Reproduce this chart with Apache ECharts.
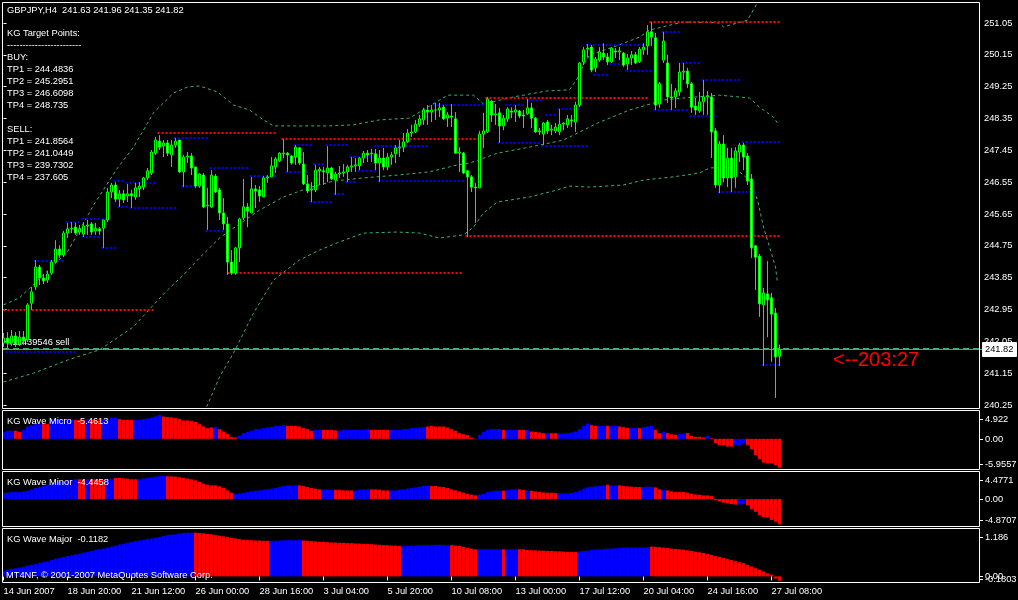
<!DOCTYPE html>
<html><head><meta charset="utf-8">
<script src="https://cdn.jsdelivr.net/npm/echarts@6/dist/echarts.min.js"></script>
<style>html,body{margin:0;padding:0;background:#000;} #c{width:1018px;height:600px;}</style>
</head><body><div id="c"></div>
<script>
// ---------- DATA ----------
const tickLabels = ['14 Jun 2007','18 Jun 20:00','21 Jun 12:00','26 Jun 00:00','28 Jun 16:00','3 Jul 04:00','5 Jul 20:00','10 Jul 08:00','13 Jul 00:00','17 Jul 12:00','20 Jul 04:00','24 Jul 16:00','27 Jul 08:00'];
const priceTicks = [251.05,250.15,249.25,248.35,247.45,246.55,245.65,244.75,243.85,242.95,242.05,241.15,240.25];

const opens = [242.00,242.14,242.00,242.20,241.97,242.17,242.09,243.13,243.59,244.15,
243.84,243.78,243.98,244.29,244.66,244.49,245.11,245.23,245.28,245.14,
245.08,245.31,245.37,245.17,245.23,245.25,245.48,246.27,246.47,246.07,
246.22,246.16,246.22,246.13,246.36,246.41,246.67,246.81,247.37,247.71,
247.57,247.66,247.32,247.60,247.74,246.84,247.26,247.29,246.98,246.44,
246.75,245.88,245.85,246.72,246.33,245.68,245.37,244.29,243.98,244.69,
245.54,245.85,245.68,246.36,246.33,246.13,246.67,246.70,246.98,247.15,
247.35,247.37,247.29,247.26,247.52,247.06,246.50,246.33,246.33,246.87,
246.87,246.81,246.95,246.61,246.78,246.81,246.84,246.98,247.01,247.01,
247.23,247.37,247.35,247.35,247.09,247.23,246.98,247.26,247.35,247.52,
247.54,247.69,247.94,247.97,248.17,248.31,248.59,248.53,248.59,248.59,
248.67,248.36,248.42,248.34,247.37,247.37,246.87,246.70,246.41,246.39,
247.91,247.97,248.84,248.45,248.51,248.14,248.34,248.56,248.53,248.56,
248.45,248.48,248.65,248.36,247.97,247.91,248.25,248.02,248.00,247.97,
248.19,248.17,248.31,248.25,248.73,249.95,250.31,250.37,249.78,250.00,
250.20,250.09,249.95,250.26,250.23,250.20,249.89,250.06,250.15,249.95,
250.29,250.40,250.80,250.63,248.76,250.00,249.92,248.96,248.96,249.10,
249.66,249.69,249.33,248.70,248.56,248.82,248.96,248.96,248.00,246.47,
247.63,246.67,247.23,246.70,247.40,247.60,247.29,246.64,244.75,244.46,
243.08,243.39,243.28,242.85,241.63];
const highs = [242.29,242.31,242.37,242.31,242.34,242.34,243.13,243.59,244.35,244.21,
243.95,244.04,244.35,244.91,244.77,245.17,245.40,245.42,245.40,245.34,
245.42,245.48,245.42,245.40,245.28,245.48,246.39,246.53,246.55,246.33,
246.33,246.50,246.33,246.53,246.55,246.70,246.95,247.46,247.83,247.88,
247.74,247.74,247.74,247.80,247.74,247.32,247.40,247.37,246.98,246.81,
246.81,246.39,246.89,246.78,246.39,246.10,245.57,244.63,244.72,245.54,
246.64,245.96,246.70,246.47,246.44,246.72,246.75,247.26,247.26,247.40,
247.77,247.40,247.32,247.60,247.54,247.40,246.75,246.55,247.04,246.98,
246.98,247.57,246.98,246.84,247.01,247.06,247.04,247.26,247.23,247.26,
247.43,247.46,247.49,247.49,247.46,247.52,247.37,247.40,247.60,247.74,
247.94,248.05,248.17,248.31,248.45,248.65,248.73,248.73,248.79,248.79,
248.73,248.53,248.76,248.53,247.54,247.40,246.89,246.75,246.53,248.00,
248.51,248.96,248.87,248.76,248.65,248.45,248.67,248.67,248.73,248.59,
248.59,248.90,248.79,248.39,248.08,248.25,248.31,248.17,248.22,248.62,
248.25,248.45,248.45,248.82,249.95,250.37,250.46,250.43,250.09,250.37,
250.48,250.20,250.37,250.34,250.37,250.23,250.17,250.26,250.23,250.37,
250.48,250.99,251.08,250.77,249.38,250.80,250.15,249.33,249.21,249.92,
249.92,249.78,249.38,248.93,249.10,249.44,249.13,249.07,248.08,247.71,
247.88,247.52,247.52,247.54,247.66,247.66,247.37,246.78,244.77,244.52,
243.56,244.32,243.42,242.99,241.96];
const lows = [241.89,241.86,241.92,241.89,241.92,241.95,242.03,242.94,243.50,243.64,
243.67,243.70,243.93,244.27,244.41,244.43,244.97,245.11,245.06,245.06,
245.00,245.06,245.06,245.06,245.06,244.69,245.42,246.10,245.99,245.85,
245.96,245.99,245.82,246.05,246.13,246.33,246.61,246.75,247.32,247.46,
247.26,247.29,246.98,247.52,246.81,246.41,247.09,246.75,246.39,246.39,
245.82,245.20,245.82,246.24,245.48,245.20,243.93,243.93,243.93,244.29,
245.48,245.28,245.68,245.82,245.99,246.13,246.53,246.70,246.81,247.12,
247.23,246.84,247.04,247.04,247.04,246.47,246.24,245.99,246.27,246.47,
246.47,246.55,246.61,246.19,246.67,246.70,246.55,246.84,246.84,246.89,
247.09,247.12,247.12,246.89,246.55,246.89,246.89,247.04,247.09,247.26,
247.40,247.66,247.83,247.94,248.11,248.17,248.17,248.25,248.31,248.39,
248.31,248.11,248.11,247.35,246.84,246.78,245.00,246.27,245.40,246.39,
247.52,247.94,248.25,248.17,247.66,248.02,248.25,248.36,248.25,248.36,
248.08,248.45,248.08,247.94,247.88,247.60,247.91,247.88,247.94,247.88,
248.02,248.08,248.11,247.97,248.67,249.86,250.09,249.66,249.66,249.95,
250.00,249.86,249.92,250.06,250.00,249.81,249.72,249.86,249.89,249.92,
250.15,250.15,250.40,248.59,248.65,249.92,248.79,248.59,248.65,248.99,
249.44,249.21,248.51,248.45,248.51,248.45,248.45,247.23,246.39,246.24,
246.55,246.41,246.27,246.39,247.12,246.89,246.47,244.41,243.50,242.74,
241.35,242.17,241.47,240.45,241.35];
const closes = [242.14,242.00,242.20,241.97,242.17,242.06,243.08,243.45,244.15,243.84,
243.76,243.95,244.29,244.66,244.49,245.11,245.23,245.25,245.11,245.23,
245.31,245.34,245.14,245.25,245.17,245.48,246.27,246.47,246.07,246.22,
246.05,246.22,246.16,246.39,246.44,246.67,246.87,247.40,247.74,247.54,
247.66,247.37,247.60,247.71,246.84,247.26,247.29,246.95,246.44,246.78,
245.85,245.90,246.75,246.27,245.68,245.37,244.29,243.98,244.69,245.51,
245.85,245.73,246.36,246.30,246.16,246.67,246.70,247.01,247.21,247.37,
247.37,247.32,247.09,247.54,247.09,246.50,246.30,246.36,246.89,246.92,
246.84,246.95,246.64,246.78,246.81,246.84,246.98,247.01,247.04,247.23,
247.37,247.32,247.37,247.09,247.23,246.98,247.26,247.32,247.52,247.54,
247.69,247.94,247.97,248.19,248.34,248.59,248.53,248.59,248.59,248.65,
248.34,248.45,248.39,247.37,247.40,246.81,246.70,246.41,246.39,247.91,
248.00,248.90,248.45,248.48,248.14,248.36,248.62,248.53,248.59,248.42,
248.42,248.65,248.36,247.97,248.00,248.22,248.00,248.05,248.11,248.19,
248.22,248.34,248.28,248.73,249.92,250.29,250.34,249.72,250.03,250.23,
250.09,249.95,250.34,250.23,250.26,249.86,250.06,250.15,249.92,250.31,
250.37,250.80,250.65,248.73,249.33,250.54,248.96,248.93,249.13,249.66,
249.69,249.33,248.67,248.59,248.82,248.96,248.99,247.97,246.47,247.63,
246.67,247.23,246.67,247.43,247.60,247.26,246.58,244.69,244.43,243.11,
243.42,243.22,242.82,241.61,241.82];

// envelope lines: [bar, price]
const upperBand = [[0,243.08],[4,243.28],[16,244.58],[22.5,245.90],[28.5,246.95],[32.5,247.54],[37.5,248.51],[42.5,249.07],[46,249.24],[49,249.27],[53.5,249.10],[57.5,248.73],[61.5,248.59],[65,248.31],[67.5,248.14],[81.5,248.14],[87.5,248.17],[94,248.31],[101.5,248.36],[109,248.87],[111,249.01],[117.5,249.01],[120,248.76],[127.5,248.96],[136,249.13],[141.5,249.16],[143.5,249.49],[145,249.86],[146.5,250.15],[152.5,250.37],[159,250.65],[161.5,250.85],[170,251.08],[179,251.05],[180,250.94],[186,251.13],[188.5,251.62],[189.5,252.0]];
const middleBand = [[0,240.90],[7.5,241.15],[16,241.52],[24,241.81],[32.5,242.46],[37.5,243.08],[41,243.50],[45,243.93],[49,244.41],[54,244.97],[59,245.37],[64,245.76],[70,246.13],[76,246.38],[82.5,246.58],[90,246.67],[98.5,246.75],[106.5,246.84],[113.5,247.04],[116.5,247.09],[123.5,247.37],[131.5,247.54],[140,247.74],[148.5,248.22],[156.5,248.59],[165,248.87],[170,248.93],[179,249.01],[186.5,248.93],[189,248.67],[192.5,248.39],[193.5,248.22]];
const lowerBand = [[48,239.60],[51,240.25],[54,241.04],[57.5,241.72],[62.5,242.85],[67.5,243.78],[74,244.35],[79,244.63],[84,244.86],[90,245.11],[98.5,245.14],[104,245.11],[109,244.97],[115,245.06],[117.5,245.28],[120,245.68],[123.5,245.99],[131.5,246.13],[138.5,246.33],[141.5,246.44],[146.5,246.41],[155,246.47],[160,246.61],[167.5,246.70],[174,246.81],[176.5,246.95],[181,246.98],[184,246.84],[186.5,246.61],[188.5,246.05],[190,245.28],[191.5,244.72],[193,244.15],[193.5,243.70]];

// dotted levels: [fromBar, toBar, price]
const redLevels = [[0,38,242.94],[38.5,68.5,247.93],[69.5,120,247.78],[56,115,243.98],[115.5,194,245.03],[120.5,161,248.93],[161.5,194,251.08]];
const blueLevels = [[0.5,18.5,241.75],[7.5,15,244.32],[15.5,19.5,245.42],[19.5,26.5,245.51],[19.5,24,245.00],[24.5,28,244.69],[27.5,30,246.58],[30.5,38,246.53],[28.5,31,245.85],[31.5,43.5,245.82],[42.5,51,247.80],[44.5,49.5,246.44],[51.5,61,246.95],[50.5,55,245.17],[61.5,68.5,246.72],[70.5,76,246.84],[72.5,77,247.60],[80.5,86,247.60],[77.5,80,247.06],[76.5,82,245.99],[85.5,88,246.55],[82.5,85,246.22],[86.5,92.5,247.26],[88.5,93,246.87],[92.5,106.5,247.57],[93.5,115,246.58],[107.5,120,248.73],[123.5,134,247.66],[125.5,130,248.73],[131,135,248.87],[134.5,146.5,247.57],[135.5,138,248.45],[138.5,144.5,248.62],[145.5,161,250.43],[147.5,151,249.58],[151.5,155,249.89],[155.5,162,249.69],[164.5,169,250.80],[162.5,171,248.59],[169.5,174,249.92],[174.5,184,249.44],[171.5,178,248.42],[184.5,194,247.69],[178.5,188.5,246.27],[189.5,194,241.38]];

const microValues = [1.45,1.66,1.66,1.66,1.45,1.86,2.55,2.83,3.04,3.04,
3.04,3.04,4.07,4.07,4.07,4.07,4.07,4.07,3.93,3.93,
3.93,4.07,3.93,3.93,3.93,4.07,4.07,4.35,4.35,4.07,
3.93,3.93,3.93,3.93,3.93,4.07,4.21,4.42,4.62,4.922,
4.62,4.49,4.42,4.28,4.07,3.80,3.80,3.73,3.52,3.04,
2.55,2.21,2.35,2.48,2.00,1.52,0.97,0.41,0.28,0.62,
1.17,1.45,1.66,2.00,2.00,2.21,2.35,2.48,2.69,2.69,
2.83,2.69,2.69,2.69,2.55,2.21,2.00,1.66,1.86,1.86,
1.86,1.86,1.86,1.73,1.66,1.86,1.86,1.86,1.86,1.86,
1.86,2.00,1.86,1.86,1.86,1.86,1.86,1.86,1.86,1.86,
2.00,2.00,2.21,2.28,2.35,2.42,2.55,2.69,2.55,2.55,
2.55,2.35,2.00,1.66,1.17,0.97,0.76,0.28,-0.07,0.76,
1.45,1.86,2.00,2.00,2.00,1.86,1.86,1.86,1.86,1.86,
1.86,1.86,1.52,1.45,1.31,1.17,1.17,1.17,1.17,1.10,
1.10,1.17,1.31,1.52,2.00,2.69,3.17,2.83,2.69,2.69,
2.69,2.69,2.69,2.69,2.55,2.42,2.28,2.21,2.21,2.21,
2.42,2.55,2.69,1.86,1.17,1.45,1.17,0.97,0.83,0.97,
1.10,1.17,0.62,0.41,0.41,0.28,0.62,0.14,-0.90,-1.31,
-1.31,-1.59,-1.59,-1.31,-1.31,-0.97,-1.31,-2.14,-3.38,-4.21,
-4.90,-5.04,-5.04,-5.45,-5.9557];
const microColors = 'bbbrrbbbbb'+'rrbbbbbbrr'+'rbrrrbbbbr'+'rrrbbbbbbb'+'rrrrrrrrrr'+'rrrbrrrrrb'+'bbbbbbbbbb'+'brrrrrrrbb'+'rrrrbbbbbb'+'bbrrrrrbbb'+'bbbbbbrrrr'+'rrrrrrrrrb'+'bbbbbrbbbr'+'rbrrrrbrrb'+'bbbbbbbrrb'+'brbbrrrbbr'+'bbbrrbrrrb'+'brrrrrbrrr'+'rrrbbbrrrr'+'rrrrr';

const minorValues = [1.24,1.24,1.37,1.37,1.37,1.50,1.63,1.89,2.15,2.34,
2.54,2.80,2.99,3.19,3.32,3.45,3.64,3.71,3.84,3.84,
3.84,3.84,3.84,3.84,3.77,3.71,3.84,3.97,4.10,4.10,
4.03,3.97,3.84,3.84,3.84,3.97,4.10,4.23,4.36,4.42,
4.4771,4.42,4.42,4.36,4.23,4.10,3.97,3.84,3.64,3.32,
2.99,2.80,2.67,2.67,2.47,2.15,1.69,1.24,0.98,1.04,
1.24,1.37,1.50,1.63,1.69,1.82,1.89,2.02,2.15,2.34,
2.54,2.67,2.67,2.67,2.67,2.54,2.34,2.15,2.02,1.89,
1.89,1.89,1.82,1.82,1.82,1.69,1.69,1.69,1.69,1.82,
1.89,1.89,1.89,1.89,1.82,1.69,1.69,1.69,1.69,1.82,
1.89,2.02,2.15,2.28,2.41,2.54,2.54,2.54,2.54,2.41,
2.34,2.15,1.89,1.69,1.50,1.24,1.04,0.85,0.72,0.85,
1.04,1.37,1.50,1.63,1.63,1.63,1.76,1.89,1.89,1.89,
1.76,1.63,1.63,1.50,1.37,1.30,1.24,1.24,1.17,1.11,
1.11,1.11,1.17,1.37,1.63,2.02,2.28,2.41,2.47,2.54,
2.67,2.80,2.67,2.67,2.67,2.54,2.47,2.41,2.34,2.34,
2.34,2.41,2.41,2.28,1.89,1.76,1.69,1.50,1.37,1.37,
1.37,1.24,1.04,0.91,0.85,0.72,0.72,0.59,-0.25,-0.44,
-0.69,-0.82,-0.95,-1.07,-1.07,-0.95,-1.20,-1.95,-2.46,-3.09,
-3.47,-3.59,-4.03,-4.35,-4.8707];
const minorColors = 'bbbbbbbbbb'+'bbbbbbbbbr'+'rbrrrrbbrr'+'rrrrbbbbbb'+'brrrrrrrrr'+'rrrrrrrrbb'+'bbbbbbbbbb'+'bbbbrrrrrr'+'bbbrrrrrbb'+'bbrrrrrbbb'+'bbbbbbbrrr'+'rrrrrrrrrb'+'bbbbbrbbbr'+'rbrrrrrrrb'+'bbbbbbbbbb'+'brbbrrrrrr'+'bbbrrbrrrr'+'rrrrrrrrrr'+'rrrrbbrrrr'+'rrrrr';

const majorValues = [0.156,0.184,0.202,0.221,0.239,0.258,0.294,0.313,0.331,0.368,
0.386,0.405,0.442,0.478,0.497,0.524,0.552,0.570,0.598,0.616,
0.644,0.662,0.690,0.718,0.736,0.754,0.782,0.810,0.837,0.865,
0.883,0.911,0.938,0.957,0.975,0.994,1.012,1.030,1.049,1.067,
1.095,1.122,1.132,1.141,1.159,1.178,1.186,1.186,1.186,1.178,
1.168,1.150,1.141,1.122,1.104,1.086,1.067,1.049,1.030,1.012,
0.994,0.984,0.984,0.975,0.975,0.966,0.966,0.966,0.966,0.975,
0.975,0.984,0.984,0.984,0.984,0.975,0.966,0.957,0.948,0.938,
0.938,0.929,0.920,0.920,0.911,0.911,0.902,0.902,0.892,0.892,
0.883,0.883,0.874,0.865,0.856,0.846,0.846,0.837,0.837,0.828,
0.828,0.828,0.828,0.837,0.846,0.846,0.846,0.846,0.856,0.856,
0.846,0.846,0.846,0.837,0.828,0.800,0.773,0.754,0.736,0.736,
0.736,0.736,0.736,0.736,0.736,0.736,0.736,0.736,0.736,0.736,
0.736,0.718,0.708,0.708,0.699,0.699,0.690,0.690,0.681,0.681,
0.672,0.662,0.662,0.662,0.681,0.690,0.699,0.718,0.727,0.736,
0.736,0.754,0.754,0.764,0.773,0.782,0.782,0.782,0.782,0.782,
0.782,0.791,0.810,0.800,0.791,0.782,0.773,0.754,0.745,0.736,
0.727,0.708,0.690,0.672,0.653,0.635,0.607,0.580,0.552,0.524,
0.497,0.469,0.442,0.414,0.386,0.359,0.313,0.267,0.221,0.175,
0.129,0.083,0.046,-0.06,-0.1182];
const majorColors = 'bbbbbbbbbb'+'bbbbbbbbbb'+'bbbbbbbbbb'+'bbbbbbbbbb'+'bbbbbbbbrr'+'rrrrrrrrrr'+'rrrrrrrbbb'+'bbbbbrrrrr'+'rrrrrrrrrr'+'rrrrrrrrrr'+'bbbbbbbbbb'+'bbrrrrrrrb'+'bbbbbrbbbr'+'rrrrrrrrrr'+'rrrrbbbbbb'+'bbbbbbbbbb'+'bbrrrrrrrr'+'rrrrrrrrrr'+'rrrrrrrrrr'+'rrrrr';

const panelRanges = {micro:[-5.9557,4.922], minor:[-4.8707,4.4771], major:[-0.1803,1.186]};
const panelAxisTexts = {micro:['4.922','0.00','-5.9557'], minor:['4.4771','0.00','-4.8707'], major:['1.186','0.00','-0.1803']};
const panelTitles = ['KG Wave Micro  -5.4613','KG Wave Minor  -4.4458','KG Wave Major  -0.1182'];
const bidPrice = 241.82, orderPrice = 241.84;
const headerText = 'GBPJPY,H4  241.63 241.96 241.35 241.82';
const infoLines = ['KG Target Points:','------------------------','BUY:','TP1 = 244.4836','TP2 = 245.2951','TP3 = 246.6098','TP4 = 248.735','','SELL:','TP1 = 241.8564','TP2 = 241.0449','TP3 = 239.7302','TP4 = 237.605'];
const orderText = '#11439546 sell';
const timerText = '<--203:27';
const copyrightText = 'MT4NF, \u00a9 2001-2007 MetaQuotes Software Corp.';

// ---------- CHART ----------
const FF = "'Liberation Sans', Arial, sans-serif";
const FS = 9.3;
const NCAT = 244;
const cats = Array.from({length:NCAT}, (_, i) => 'c' + i);
const showTick = (idx) => idx % 16 === 0 && idx / 16 < tickLabels.length;

const gridBase = {left:1.5, width:976, outerBoundsMode:'none', containLabel:false};
const grids = [
  Object.assign({top:3, height:406}, gridBase),
  Object.assign({top:415, height:52.7}, gridBase),
  Object.assign({top:476, height:48.3}, gridBase),
  Object.assign({top:532.7, height:50.3}, gridBase)
];
const xAxes = [0,1,2,3].map(k => ({
  type:'category', gridIndex:k, data:cats, boundaryGap:true,
  axisLine:{show:false}, splitLine:{show:false},
  axisTick: k===3 ? {show:true, alignWithLabel:true, interval:(i)=>showTick(i), length:4, lineStyle:{color:'#ffffff'}} : {show:false},
  axisLabel: k===3 ? {show:true, interval:(i)=>showTick(i), formatter:(v,i)=>tickLabels[Math.round(i/16)], align:'left', color:'#ffffff', fontSize:FS, fontFamily:FF, margin:4} : {show:false}
}));
xAxes.push({type:'value', gridIndex:0, min:-0.5, max:NCAT-0.5, show:false});

const yAxes = [
  {type:'value', gridIndex:0, position:'right', offset:2.5, min:240.137, max:251.615, scale:true,
   axisLine:{show:false}, splitLine:{show:false},
   axisTick:{show:true, length:3, customValues:priceTicks, lineStyle:{color:'#ffffff'}},
   axisLabel:{show:true, customValues:priceTicks, formatter:(v)=>Number(v).toFixed(2), color:'#ffffff', fontSize:FS, fontFamily:FF, margin:4}},
  {type:'value', gridIndex:1, min:panelRanges.micro[0], max:panelRanges.micro[1], show:false},
  {type:'value', gridIndex:2, min:panelRanges.minor[0], max:panelRanges.minor[1], show:false},
  {type:'value', gridIndex:3, min:panelRanges.major[0], max:panelRanges.major[1], show:false}
];

const candleData = opens.map((o, i) => [o, closes[i], lows[i], highs[i]]);
const colorOf = c => c === 'b' ? '#0000ff' : '#ff0000';
const barData = (vals, cols) => vals.map((v, i) => ({value:v, itemStyle:{color:colorOf(cols[i])}}));

function levelRenderer(color){
  return function(params, api){
    const p1 = api.coord([api.value(0), api.value(2)]);
    const p2 = api.coord([api.value(1), api.value(2)]);
    const y = Math.round(p1[1]);
    return {type:'line', shape:{x1:p1[0], y1:y, x2:p2[0], y2:y}, style:{stroke:color, lineWidth:2, lineDash:[2,2]}};
  };
}
const bandStyle = {color:'#3cb371', width:1, type:[3,3]};

const option = {
  backgroundColor:'#000000',
  animation:false,
  textStyle:{fontFamily:FF},
  grid:grids, xAxis:xAxes, yAxis:yAxes,
  series:[
    {type:'line', name:'upper', xAxisIndex:4, yAxisIndex:0, data:upperBand, symbol:'none', lineStyle:bandStyle, z:3, silent:true},
    {type:'line', name:'middle', xAxisIndex:4, yAxisIndex:0, data:middleBand, symbol:'none', lineStyle:bandStyle, z:3, silent:true},
    {type:'line', name:'lower', xAxisIndex:4, yAxisIndex:0, data:lowerBand, symbol:'none', lineStyle:bandStyle, z:3, silent:true},
    {type:'custom', name:'red', xAxisIndex:4, yAxisIndex:0, data:redLevels, encode:{x:[0,1], y:2}, renderItem:levelRenderer('#ff0000'), z:4, silent:true},
    {type:'custom', name:'blue', xAxisIndex:4, yAxisIndex:0, data:blueLevels, encode:{x:[0,1], y:2}, renderItem:levelRenderer('#0000ff'), z:4, silent:true},
    {type:'candlestick', xAxisIndex:0, yAxisIndex:0, data:candleData, barWidth:2, z:5, silent:true,
     itemStyle:{color:'#000000', color0:'#ffffff', borderColor:'#00ff00', borderColor0:'#00ff00', borderWidth:1}},
    {type:'bar', xAxisIndex:1, yAxisIndex:1, data:barData(microValues, microColors), barWidth:3, z:2, silent:true},
    {type:'bar', xAxisIndex:2, yAxisIndex:2, data:barData(minorValues, minorColors), barWidth:3, z:2, silent:true},
    {type:'bar', xAxisIndex:3, yAxisIndex:3, data:barData(majorValues, majorColors), barWidth:3, z:2, silent:true}
  ]
};

const chart = echarts.init(document.getElementById('c'), null, {renderer:'canvas'});
chart.setOption(option);

// ---------- overlay texts / frames ----------
const g = [];
const FONT = FS + 'px ' + FF;
function txt(x, y, text, fill, font, z){
  g.push({type:'text', x:x, y:y, z:z==null?20:z, silent:true, style:{text:text, fill:fill||'#ffffff', font:font||FONT, align:'left', verticalAlign:'middle'}});
}
function ln(x1, y1, x2, y2, stroke, w, dash, z){
  g.push({type:'line', z:z==null?20:z, silent:true, shape:{x1:x1,y1:y1,x2:x2,y2:y2}, style:{stroke:stroke, lineWidth:w||1, lineDash:dash||null}});
}
function frame(y, h){
  g.push({type:'rect', z:20, silent:true, shape:{x:2.5, y:y, width:977, height:h}, style:{fill:'none', stroke:'#ffffff', lineWidth:1}});
}
frame(2.5, 406); frame(410.5, 59); frame(471.5, 55); frame(528.5, 54);

// sub-panel right scales
const keys = ['micro','minor','major'];
keys.forEach((k, j) => {
  const ax = j + 1;
  const [mn, mx] = panelRanges[k];
  const yMax = chart.convertToPixel({yAxisIndex:ax}, mx) + 4;
  const yZero = chart.convertToPixel({yAxisIndex:ax}, 0);
  const yMin = chart.convertToPixel({yAxisIndex:ax}, mn) - 4;
  const t = panelAxisTexts[k];
  [[t[0], yMax], [t[1], yZero], [t[2], yMin]].forEach(([s, y]) => {
    const yy = Math.round(y) + 0.5;
    ln(980, yy, 983, yy, '#ffffff', 1);
    txt(985, yy, s);
  });
});

// header & info block
txt(7, 10.5, headerText);
infoLines.forEach((s, i) => { if (s) txt(7, 33 + 12 * i, s); });
// panel titles
const titleYs = [421.5, 482.5, 539.5];
panelTitles.forEach((s, i) => txt(7, titleYs[i], s));
txt(6, 575, copyrightText);

// bid line, order line, price box
const bidY = Math.round(chart.convertToPixel({yAxisIndex:0}, bidPrice)) + 0.5;
const ordY = Math.round(chart.convertToPixel({yAxisIndex:0}, orderPrice));
ln(3, bidY, 983, bidY, '#778899', 1, null, 1);
ln(3, ordY, 979, ordY, '#3cb371', 2, [6,4], 1);
txt(7, bidY - 7, orderText, '#ffffff', FONT, 1);
g.push({type:'rect', z:21, silent:true, shape:{x:982.5, y:bidY-7, width:34, height:14}, style:{fill:'#ffffff', stroke:'#ffffff'}});
txt(985, bidY, bidPrice.toFixed(2), '#000000', FONT, 22);
// timer text
txt(833, bidY + 11, timerText, '#ff0000', "20px 'Liberation Sans', Arial, sans-serif");

chart.setOption({graphic:{elements:g}});
</script>
</body></html>
